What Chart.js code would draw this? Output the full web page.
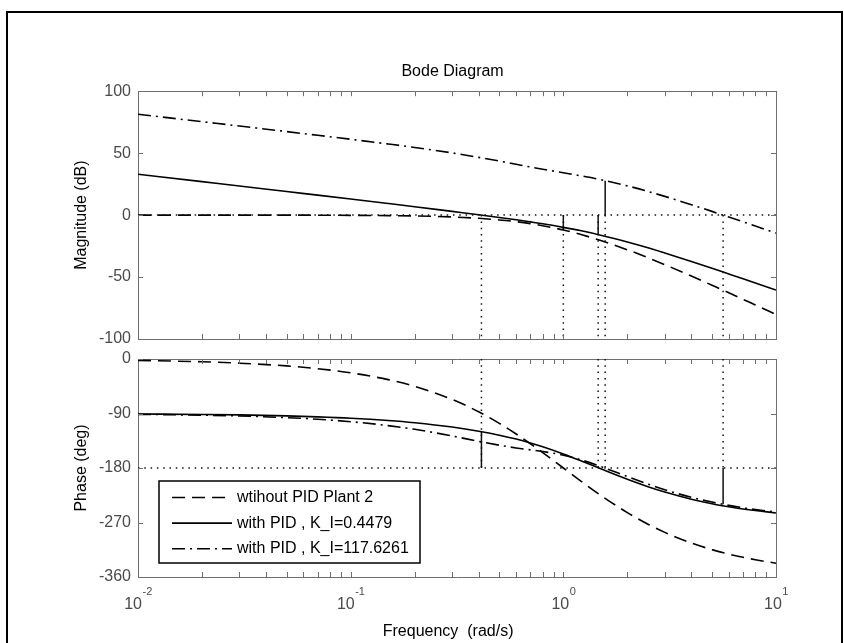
<!DOCTYPE html>
<html>
<head>
<meta charset="utf-8">
<title>Bode Diagram</title>
<script src="https://cdn.jsdelivr.net/npm/chart.js@4.4.1/dist/chart.umd.min.js"></script>
<style>
  html, body { margin: 0; padding: 0; background: #fff; }
  body { width: 844px; height: 643px; position: relative; overflow: hidden; }
  .frame { position: absolute; left: 6px; top: 11px; width: 833px; height: 700px; border: 2px solid #000; }
  canvas { position: absolute; left: 0; top: 0; }
</style>
</head>
<body>
<div class="frame"></div>
<canvas id="mag" width="844" height="643"></canvas>
<canvas id="phase" width="844" height="643"></canvas>
<script>
// frequency grid (rad/s)
const freq = [0.01, 0.02, 0.03, 0.05, 0.07, 0.1, 0.15, 0.2, 0.3, 0.4, 0.5, 0.6, 0.7, 0.8,
              1, 1.2, 1.5, 2, 2.5, 3, 4, 5, 6, 7, 8, 10];

// magnitude (dB)
const magPlant   = [0.0, 0.0, 0.0, 0.0, -0.1, -0.2, -0.4, -0.7, -1.5, -2.6, -3.9, -5.3, -6.9, -8.6,
                    -12.0, -15.5, -20.5, -28.0, -34.4, -40.0, -49.2, -56.6, -62.7, -68.0, -72.5, -80.2];
const magPidLow  = [33.0, 27.0, 23.5, 19.0, 16.1, 13.0, 9.4, 6.8, 3.0, 0.3, -1.9, -3.8, -5.5, -7.0,
                    -9.9, -12.5, -16.2, -21.7, -26.4, -30.6, -37.4, -42.9, -47.5, -51.4, -54.8, -60.5];
const magPidHigh = [81.4, 75.4, 71.9, 67.4, 64.4, 61.2, 57.4, 54.6, 50.2, 46.6, 43.6, 41.0, 38.8, 37.0,
                    34.2, 31.8, 28.6, 23.6, 19.1, 15.1, 8.4, 3.0, -1.6, -5.4, -8.8, -14.5];

// phase (deg)
const phPlant   = [-2.3, -4.6, -6.9, -11.4, -16.0, -22.8, -34.1, -45.2, -66.8, -87.2, -106.3, -123.9, -140.0, -154.6,
                   -180.0, -200.8, -225.2, -253.7, -272.8, -286.3, -303.9, -314.8, -322.2, -327.5, -331.5, -337.2];
const phPidLow  = [-90.8, -91.6, -92.3, -93.9, -95.5, -97.8, -101.6, -105.3, -112.4, -119.2, -125.8, -132.2, -138.6, -144.8,
                   -156.7, -167.5, -181.3, -198.7, -210.9, -219.7, -231.5, -238.9, -243.9, -247.6, -250.3, -254.2];
const phPidHigh = [-91.4, -92.7, -94.1, -96.8, -99.5, -103.5, -110.0, -116.1, -127.1, -136.0, -142.4, -146.9, -150.1, -152.8,
                   -158.8, -166.1, -177.6, -194.2, -206.6, -215.9, -228.4, -236.3, -241.7, -245.7, -248.7, -252.9];

const seriesNames = ['wtihout PID Plant 2', 'with PID , K_I=0.4479', 'with PID , K_I=117.6261'];

// stability margins
const gmFreq = [1.0, 1.458, 1.573];
const gmMag = [-12.0, -15.7, 27.8];
const pmFreq = [0.412, 5.64];
const pmPhase = [-120, -240];
const magGuideFreq = [0.412, 1.0, 1.458, 1.573, 5.64];
const phGuideFreq = [0.412, 1.458, 1.573, 5.64];

// axes
const magTicks = [-100, -50, 0, 50, 100];
const phTicks = [-360, -270, -180, -90, 0];
const decades = [0.01, 0.1, 1, 10];
const decadeExp = ['-2', '-1', '0', '1'];
const xTickVals = [0.02, 0.03, 0.04, 0.05, 0.06, 0.07, 0.08, 0.09, 0.1,
                   0.2, 0.3, 0.4, 0.5, 0.6, 0.7, 0.8, 0.9, 1,
                   2, 3, 4, 5, 6, 7, 8, 9];

const FONT = '"Liberation Sans", Arial, Helvetica, sans-serif';
const AXIS = '#6e6e6e';
const TICK_TXT = '#4a4a4a';
const TICK_LEN = 5;
const DASH = [13, 7];
const DASHDOT = [13, 5, 2, 5];
const DOT = [1.5, 4.8];
const seriesDash = [DASH, [], DASHDOT];

const pts = ys => freq.map((f, i) => ({ x: f, y: ys[i] }));
// vertical segments, separated by gaps
const segs = (xs, from, to) => xs.flatMap((f, i) => [
  { x: f, y: Array.isArray(from) ? from[i] : from },
  { x: f, y: Array.isArray(to) ? to[i] : to },
  { x: f, y: null }
]);

const curve = (ys, i) => ({
  data: pts(ys), borderColor: '#000', borderWidth: 1.6, borderDash: seriesDash[i],
  pointRadius: 0, cubicInterpolationMode: 'monotone', tension: 0.3
});
const guide = (data, dash) => ({
  data, borderColor: '#111', borderWidth: dash.length ? 1.5 : 1.5, borderDash: dash,
  pointRadius: 0, spanGaps: false, tension: 0
});

const innerTicks = {
  id: 'innerTicks',
  afterDatasetsDraw(chart, args, opts) {
    const { ctx, chartArea: a, scales } = chart;
    ctx.save();
    ctx.strokeStyle = AXIS;
    ctx.lineWidth = 1;
    ctx.beginPath();
    xTickVals.forEach(v => {
      const px = Math.round(scales.x.getPixelForValue(v)) + 0.5;
      ctx.moveTo(px, a.bottom); ctx.lineTo(px, a.bottom - TICK_LEN);
      ctx.moveTo(px, a.top); ctx.lineTo(px, a.top + TICK_LEN);
    });
    opts.yTicks.forEach(v => {
      const py = Math.round(scales.y.getPixelForValue(v)) + 0.5;
      ctx.moveTo(a.left, py); ctx.lineTo(a.left + TICK_LEN, py);
      ctx.moveTo(a.right, py); ctx.lineTo(a.right - TICK_LEN, py);
    });
    ctx.stroke();
    ctx.restore();
  }
};

const decadeLabels = {
  id: 'decadeLabels',
  afterDraw(chart) {
    const { ctx, chartArea: a, scales: { x } } = chart;
    ctx.save();
    ctx.fillStyle = TICK_TXT;
    ctx.textBaseline = 'alphabetic';
    ctx.textAlign = 'left';
    decades.forEach((v, i) => {
      const px = x.getPixelForValue(v);
      ctx.font = '16px ' + FONT;
      const wBase = ctx.measureText('10').width;
      ctx.font = '11px ' + FONT;
      const wExp = ctx.measureText(decadeExp[i]).width;
      const left = px - (wBase + wExp) / 2;
      ctx.font = '16px ' + FONT;
      ctx.fillText('10', left, a.bottom + 32);
      ctx.font = '11px ' + FONT;
      ctx.fillText(decadeExp[i], left + wBase + 0.5, a.bottom + 18);
    });
    ctx.restore();
  }
};

const boxLegend = {
  id: 'boxLegend',
  afterDraw(chart) {
    const { ctx, chartArea: a } = chart;
    const L = a.left + 21, T = a.top + 122, W = 261, H = 82;
    ctx.save();
    ctx.fillStyle = '#fff';
    ctx.fillRect(L, T, W, H);
    ctx.strokeStyle = '#000';
    ctx.lineWidth = 1.5;
    ctx.strokeRect(L, T, W, H);
    ctx.font = '16px ' + FONT;
    ctx.textBaseline = 'middle';
    ctx.fillStyle = '#000';
    seriesNames.forEach((name, i) => {
      const y = T + 16.5 + i * 25.6;
      ctx.setLineDash(seriesDash[i]);
      ctx.lineWidth = 1.6;
      ctx.beginPath();
      ctx.moveTo(L + 13, y);
      ctx.lineTo(L + 73, y);
      ctx.stroke();
      ctx.setLineDash([]);
      ctx.fillText(name, L + 78, y);
    });
    ctx.restore();
  }
};

const logX = (position, extra) => Object.assign({
  type: 'logarithmic', min: 0.01, max: 10, position,
  ticks: { display: false },
  grid: { display: false, drawTicks: false },
  border: { display: true, color: AXIS, width: 1 },
  afterFit: s => { s.height = 0; }
}, extra || {});

const yAxis = (min, max, ticks, title) => ({
  type: 'linear', min, max, position: 'left',
  afterBuildTicks: s => { s.ticks = ticks.map(v => ({ value: v })); },
  ticks: { color: TICK_TXT, font: { size: 16, family: FONT }, padding: 7 },
  grid: { display: false, drawTicks: false },
  border: { display: true, color: AXIS, width: 1 },
  title: { display: true, text: title, color: '#000', font: { size: 16, family: FONT }, padding: { top: 72, bottom: 0 } },
  afterFit: s => { s.width = 138; }
});

const yRight = (min, max) => ({
  type: 'linear', min, max, position: 'right',
  ticks: { display: false },
  grid: { display: false, drawTicks: false },
  border: { display: true, color: AXIS, width: 1 },
  afterFit: s => { s.width = 0; }
});

const common = {
  responsive: false, animation: false, events: [],
  plugins: { legend: { display: false }, tooltip: { enabled: false } }
};

new Chart(document.getElementById('mag'), {
  type: 'line',
  data: {
    datasets: [
      guide([{ x: 0.01, y: 0 }, { x: 10, y: 0 }], DOT),
      guide(segs(magGuideFreq, 0, -100), DOT),
      curve(magPlant, 0),
      curve(magPidLow, 1),
      curve(magPidHigh, 2),
      guide(segs(gmFreq, 0, gmMag), [])
    ]
  },
  options: Object.assign({}, common, {
    layout: { padding: { left: 0, right: 68, top: 62, bottom: 304 } },
    plugins: Object.assign({}, common.plugins, {
      // trailing spaces nudge the centred title a little to the left
      title: { display: true, text: 'Bode Diagram  ', color: '#000', fullSize: false,
               font: { size: 16, family: FONT, weight: 'normal' }, padding: { top: 0, bottom: 10 } },
      innerTicks: { yTicks: magTicks }
    }),
    scales: {
      x: logX('bottom'),
      xTop: logX('top'),
      y: yAxis(-100, 100, magTicks, 'Magnitude (dB)'),
      yR: yRight(-100, 100)
    }
  }),
  plugins: [innerTicks]
});

new Chart(document.getElementById('phase'), {
  type: 'line',
  data: {
    datasets: [
      guide([{ x: 0.01, y: -180 }, { x: 10, y: -180 }], DOT),
      guide(segs(phGuideFreq, 0, -180), DOT),
      curve(phPlant, 0),
      curve(phPidLow, 1),
      curve(phPidHigh, 2),
      guide(segs(pmFreq, -180, pmPhase), [])
    ]
  },
  options: Object.assign({}, common, {
    layout: { padding: { left: 0, right: 68, top: 359, bottom: 0 } },
    plugins: Object.assign({}, common.plugins, { innerTicks: { yTicks: phTicks } }),
    scales: {
      x: logX('bottom', {
        title: { display: true, text: 'Frequency  (rad/s)    ', color: '#000',
                 font: { size: 16, family: FONT }, padding: { top: 0, bottom: 2 } },
        afterFit: s => { s.height = 66; }
      }),
      xTop: logX('top'),
      y: yAxis(-360, 0, phTicks, 'Phase (deg)'),
      yR: yRight(-360, 0)
    }
  }),
  plugins: [innerTicks, decadeLabels, boxLegend]
});
</script>
</body>
</html>
